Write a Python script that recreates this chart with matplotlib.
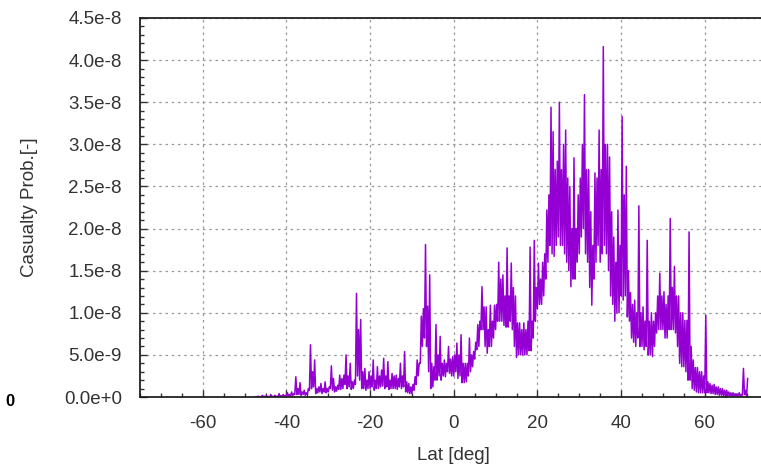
import numpy as np
import matplotlib
matplotlib.use("Agg")
import matplotlib.pyplot as plt
from matplotlib.ticker import MultipleLocator, FuncFormatter

# latitude bins, every half degree from -47.5 to 70
lat_start = -47.5
lat_step = 0.5

# casualty probability in units of 1e-9
# upper and lower envelope of the trace in each half-degree bin (10 bins per row = 5 deg)
prob_hi = [
    0.05, 0.1, 0.05, 0.2, 0.1, 0.15, 0.05, 0.3, 0.1, 0.2,     # -47.5 .. -43.0
    0.1, 0.4, 0.15, 0.3, 0.2, 0.5, 0.3, 0.6, 0.4, 2.4,        # -42.5 .. -38.0
    1.0, 1.7, 0.6, 0.8, 0.5, 1.0, 6.2, 3.0, 4.4, 1.0,         # -37.5 .. -33.0
    1.2, 1.6, 1.0, 1.8, 1.0, 1.2, 3.7, 2.2, 1.2, 1.4,         # -32.5 .. -28.0
    2.6, 2.2, 2.6, 5.0, 2.5, 4.0, 1.8, 2.0, 12.3, 8.0,        # -27.5 .. -23.0
    9.2, 3.0, 3.4, 2.0, 3.0, 2.5, 4.4, 2.0, 3.6, 2.5,         # -22.5 .. -18.0
    3.2, 4.6, 2.5, 4.2, 2.0, 2.8, 2.5, 2.6, 2.2, 4.0,         # -17.5 .. -13.0
    2.5, 5.4, 1.8, 1.6, 1.2, 1.5, 2.4, 4.4, 4.0, 9.6,         # -12.5 .. -8.0
    10.5, 18.1, 10.8, 14.5, 4.0, 3.6, 8.6, 5.0, 7.2, 4.0,     # -7.5 .. -3.0
    4.4, 4.0, 6.0, 4.5, 4.8, 5.0, 6.4, 5.0, 7.4, 4.0,         # -2.5 .. 2.0
    4.0, 4.0, 7.0, 5.0, 5.4, 6.5, 8.6, 9.0, 13.1, 10.7,       # 2.5 .. 7.0
    10.7, 8.0, 10.9, 9.0, 10.9, 11.0, 16.0, 14.0, 14.5, 12.0, # 7.5 .. 12.0
    17.7, 12.0, 15.9, 13.0, 12.0, 8.8, 8.8, 8.0, 8.8, 8.0,    # 12.5 .. 17.0
    9.0, 17.8, 9.0, 18.6, 13.0, 15.9, 14.0, 16.0, 17.0, 22.2, # 17.5 .. 22.0
    24.0, 34.4, 31.5, 27.0, 28.0, 35.0, 27.0, 30.0, 31.7, 26.0, # 22.5 .. 27.0
    25.0, 20.0, 28.4, 20.0, 24.0, 26.0, 30.0, 35.9, 27.0, 27.0, # 27.5 .. 32.0
    22.0, 18.0, 26.6, 26.0, 31.7, 27.0, 41.6, 30.0, 30.0, 28.5, # 32.5 .. 37.0
    22.0, 19.0, 16.0, 22.2, 18.0, 33.3, 24.0, 27.4, 15.0, 12.4, # 37.5 .. 42.0
    11.0, 11.5, 10.0, 22.7, 10.0, 10.7, 9.0, 18.6, 9.0, 10.0, # 42.5 .. 47.0
    9.0, 10.0, 12.0, 14.7, 12.0, 12.5, 11.0, 12.0, 21.2, 13.0, # 47.5 .. 52.0
    15.5, 12.0, 12.0, 10.0, 10.0, 9.1, 9.1, 19.6, 6.0, 4.4,   # 52.5 .. 57.0
    3.5, 3.5, 3.0, 3.0, 2.5, 9.7, 1.8, 1.6, 1.4, 1.5,         # 57.5 .. 62.0
    1.2, 1.2, 1.0, 1.0, 0.8, 0.8, 0.6, 0.5, 0.5, 0.4,         # 62.5 .. 67.0
    0.4, 0.5, 0.3, 3.4, 0.8, 2.2,                             # 67.5 .. 70.0
]
prob_lo = [
    0.0, 0.0, 0.0, 0.0, 0.0, 0.0, 0.0, 0.0, 0.0, 0.0,
    0.0, 0.0, 0.05, 0.05, 0.05, 0.1, 0.1, 0.1, 0.15, 0.3,
    0.3, 0.3, 0.2, 0.3, 0.2, 0.3, 0.8, 1.0, 1.2, 0.4,
    0.5, 0.6, 0.4, 0.6, 0.5, 0.6, 1.0, 0.8, 0.6, 0.7,
    0.9, 0.9, 1.0, 1.5, 1.0, 1.2, 0.9, 1.0, 1.5, 2.5,
    2.0, 1.0, 1.0, 0.8, 1.0, 1.0, 1.2, 0.8, 1.0, 1.0,
    1.2, 1.3, 1.0, 1.2, 0.9, 1.0, 1.0, 1.0, 0.9, 1.2,
    1.0, 1.2, 0.6, 0.5, 0.4, 0.4, 0.8, 1.5, 2.5, 4.0,
    6.0, 7.0, 6.0, 3.0, 1.0, 1.2, 2.0, 2.0, 2.5, 2.0,
    2.5, 2.4, 3.0, 2.8, 2.5, 2.5, 3.0, 2.2, 2.5, 1.7,
    1.7, 1.8, 2.5, 3.0, 3.6, 4.5, 5.6, 6.0, 8.0, 8.0,
    6.0, 5.2, 6.0, 6.0, 7.0, 8.0, 9.0, 9.0, 9.0, 8.5,
    8.3, 8.3, 9.0, 8.0, 6.0, 4.7, 5.0, 5.0, 5.0, 5.0,
    5.0, 5.5, 5.5, 7.0, 9.0, 10.5, 11.0, 11.0, 12.0, 14.0,
    16.0, 18.0, 17.0, 16.7, 18.0, 19.0, 18.0, 18.0, 17.0, 16.0,
    15.0, 13.1, 14.0, 14.0, 16.0, 17.0, 19.0, 20.0, 17.0, 16.0,
    13.0, 10.9, 14.0, 16.0, 18.0, 16.0, 17.0, 18.0, 17.0, 15.0,
    12.0, 11.0, 9.0, 10.0, 10.0, 12.0, 11.5, 12.0, 9.5, 9.0,
    7.0, 6.5, 6.0, 7.0, 6.0, 6.0, 5.6, 6.0, 5.0, 5.0,
    4.8, 6.0, 7.6, 8.0, 8.0, 8.0, 7.0, 7.0, 8.0, 8.0,
    8.0, 7.6, 6.0, 4.0, 3.6, 3.6, 3.0, 2.0, 2.0, 1.0,
    0.8, 0.6, 0.5, 0.5, 0.5, 0.5, 0.5, 0.5, 0.4, 0.4,
    0.3, 0.3, 0.2, 0.2, 0.1, 0.1, 0.1, 0.1, 0.1, 0.1,
    0.1, 0.1, 0.1, 0.2, 0.3, 0.1,
]

x_ticks = [-60, -40, -20, 0, 20, 40, 60]

# trace goes low -> high inside each bin
lat = lat_start + lat_step * np.arange(len(prob_hi))
xs = np.column_stack([lat, lat + lat_step / 2]).ravel()
ys = np.column_stack([prob_lo, prob_hi]).ravel() * 1e-9


def sci_fmt(v, pos):
    # labels like 4.5e-8 / 5.0e-9 / 0.0e+0
    if abs(v) < 1e-20:
        return "0.0e+0"
    exp = int(np.floor(np.log10(abs(v)) + 1e-9))
    mant = v / 10 ** exp
    return "%.1fe%d" % (mant, exp) if exp < 0 else "%.1fe+%d" % (mant, exp)


plt.rcParams['font.family'] = ['Liberation Sans', 'DejaVu Sans']
plt.rcParams['axes.unicode_minus'] = False

W, H = 761, 469
fig = plt.figure(figsize=(W / 100, H / 100), dpi=100)
ax = fig.add_axes([140 / W, 1 - 397 / H, 627.5 / W, 379 / H])

ax.plot(xs, ys, color='#9400d3', lw=1.1)

ax.set_xlim(-75, 75)
ax.set_ylim(0, 4.5e-8)
ax.set_xticks(x_ticks)
ax.xaxis.set_minor_locator(MultipleLocator(5))
ax.yaxis.set_major_locator(MultipleLocator(5e-9))
ax.yaxis.set_minor_locator(MultipleLocator(1e-9))
ax.yaxis.set_major_formatter(FuncFormatter(sci_fmt))

ax.grid(True, which='major', color='#999999', linestyle=(0, (2, 3)), lw=0.9)
ax.tick_params(which='both', direction='in', colors='#333333', labelsize=13.5,
               top=False, right=False)
ax.tick_params(which='major', length=5, width=1)
ax.tick_params(which='minor', length=3, width=1)
ax.tick_params(axis='y', pad=13)
ax.tick_params(axis='x', pad=13)
for s in ax.spines.values():
    s.set_linewidth(1.3)
    s.set_color('#222222')

ax.set_xlabel('Lat [deg]', fontsize=13.5, color='#333333', labelpad=11)
ax.set_ylabel('Casualty Prob.[-]', fontsize=13.5, color='#333333', labelpad=19)

fig.text(5 / W, 1 - 401 / H, '0', fontsize=12, fontweight='bold', va='center', ha='left')

fig.savefig('out.png', dpi=100)
